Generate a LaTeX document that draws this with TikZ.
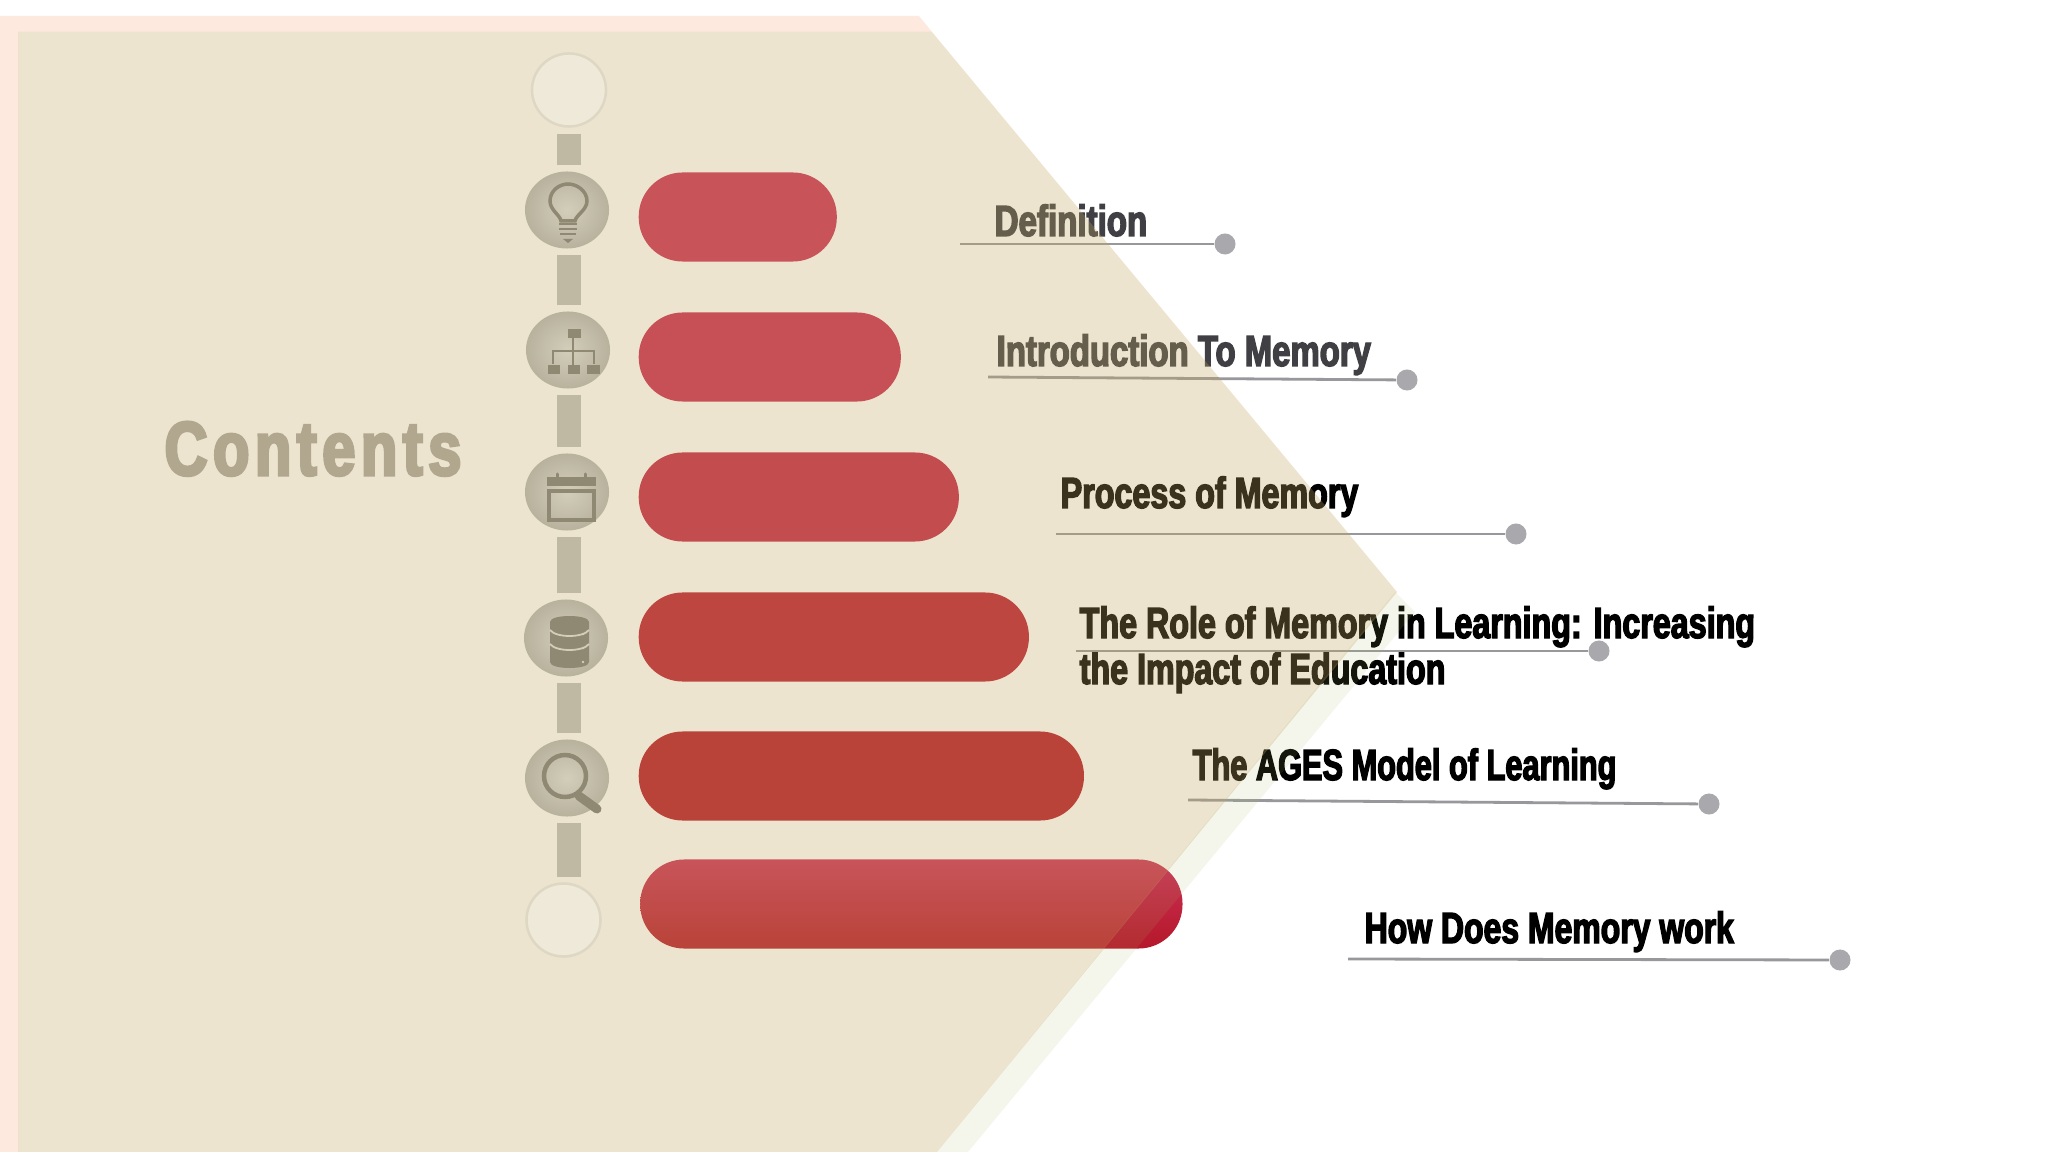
\documentclass[tikz,border=0pt]{standalone}
\usepackage{tikz}
\usepackage{xcolor}
\usepackage{graphicx}
\usepackage{fontspec}
\usetikzlibrary{shapes.geometric}
\newfontfamily\impactfont[UprightFont=* Bold,FakeStretch=0.74,FakeBold=3]{Liberation Sans}
\newfontfamily\titlefont[UprightFont=* Bold,FakeStretch=0.78,FakeBold=4,LetterSpace=7.5]{Liberation Sans}
\definecolor{pinkstrip}{HTML}{FDE9DD}
\definecolor{sandveil}{HTML}{C3A85F}
\definecolor{greenveil}{HTML}{A8BB63}
\definecolor{railgrey}{HTML}{BFB8A2}
\definecolor{iconbrown}{HTML}{8F8872}
\definecolor{titlebrown}{HTML}{B0A78E}
\definecolor{dotgrey}{HTML}{A9A8AD}
\definecolor{softgrey}{HTML}{3F3F44}
\definecolor{ringfill}{HTML}{EFE9D9}
\definecolor{ringedge}{HTML}{DDD7C4}
\definecolor{iconlight}{HTML}{D3CEBA}
\definecolor{pillone}{HTML}{CB3159}
\definecolor{pilltwo}{HTML}{C82B53}
\definecolor{pillthree}{HTML}{C42747}
\definecolor{pillfour}{HTML}{BB1D33}
\definecolor{pillfive}{HTML}{B51829}
\tikzset{
  pill/.style={rectangle,rounded corners=0.44cm,anchor=west,inner sep=0pt,minimum height=0.89cm},
  itemtext/.style={anchor=base west,inner sep=0pt,font=\impactfont\fontsize{12.4}{13.1}\selectfont},
  leader/.style={draw=dotgrey!90!black,line width=0.028cm},
  enddot/.style={circle,fill=dotgrey,inner sep=0pt,minimum size=0.21cm},
  railbar/.style={draw=railgrey,line width=0.24cm,shorten >=0.055cm,shorten <=0.06cm},
  iconball/.style={ellipse,inner sep=0pt,minimum width=0.84cm,minimum height=0.77cm,inner color=iconlight,outer color=iconbrown!40!iconlight},
  openring/.style={ellipse,inner sep=0pt,minimum width=0.74cm,minimum height=0.73cm,fill=ringfill,draw=ringedge,line width=0.025cm},
  iconline/.style={draw=iconbrown,line width=0.035cm},
  iconfill/.style={fill=iconbrown}
}
\begin{document}
\begin{tikzpicture}[x=0.01cm,y=-0.01cm]
\useasboundingbox (0,0) rectangle (2048,1152);
\fill[white] (0,0) rectangle (2048,1152);
\fill[pinkstrip] (0,16) -- (919,16) -- (932,32) -- (18,32) -- (18,1152) -- (0,1152) -- cycle;

\node[pill,fill=pillone,minimum width=1.98cm] (pilldef) at (638,217) {};
\node[pill,fill=pilltwo,minimum width=2.62cm] (pillintro) at (638,357) {};
\node[pill,fill=pillthree,minimum width=3.20cm] (pillprocess) at (638,497) {};
\node[pill,fill=pillfour,minimum width=3.90cm] (pillrole) at (638,637) {};
\node[pill,fill=pillfive,minimum width=4.45cm] (pillages) at (638,776) {};
\node[pill,top color=pillone,bottom color=pillfive,minimum width=5.42cm] (pillhow) at (639.5,904) {};

\node[itemtext,text=softgrey] (textdef) at (994,236) {\scalebox{1.025}[1]{Definition}};
\node[itemtext,text=softgrey] (textintro) at (996,366) {\scalebox{1.02}[1]{Introduction To Memory}};
\node[itemtext,text=black] (textprocess) at (1060,508) {Process of Memory};
\node[itemtext,text=black] (textroleup) at (1079,638) {The Role of Memory in Learning: Increasing};
\node[itemtext,text=black] (textroledown) at (1079,684) {the Impact of Education};
\node[itemtext,text=black] (textages) at (1192,780) {\scalebox{0.953}[1]{The AGES Model of Learning}};
\node[itemtext,text=black] (texthow) at (1364,943) {\scalebox{0.99}[1]{How Does Memory work}};

\coordinate (startdef) at (960,244);
\coordinate (startintro) at (988,377);
\coordinate (startprocess) at (1056,534);
\coordinate (startrole) at (1076,651);
\coordinate (startages) at (1188,800);
\coordinate (starthow) at (1348,959);
\node[enddot] (dotdef) at (1225,244) {};
\node[enddot] (dotintro) at (1407,380) {};
\node[enddot] (dotprocess) at (1516,534) {};
\node[enddot] (dotrole) at (1599,651) {};
\node[enddot] (dotages) at (1709,804) {};
\node[enddot] (dothow) at (1840,960) {};
\draw[leader] (startdef) -- (dotdef);
\draw[leader] (startintro) -- (dotintro);
\draw[leader] (startprocess) -- (dotprocess);
\draw[leader] (startrole) -- (dotrole);
\draw[leader] (startages) -- (dotages);
\draw[leader] (starthow) -- (dothow);

\fill[greenveil,fill opacity=0.12] (1395,592) -- (1415,612) -- (968,1152) -- (937,1152) -- cycle;
\fill[sandveil,fill opacity=0.3] (18,32) -- (932,32) -- (1397,592) -- (937,1152) -- (18,1152) -- cycle;

\node[openring] (ringtop) at (569,90) {};
\node[iconball] (ballbulb) at (567,210) {};
\node[iconball] (balltree) at (568,350) {};
\node[iconball] (ballcal) at (567,492) {};
\node[iconball] (balldata) at (566,638) {};
\node[iconball] (ballsearch) at (567,778) {};
\node[openring] (ringbottom) at (563.5,920) {};
\coordinate (rail) at (569,0);
\draw[railbar] (rail |- ringtop.south) -- (rail |- ballbulb.north);
\draw[railbar] (rail |- ballbulb.south) -- (rail |- balltree.north);
\draw[railbar] (rail |- balltree.south) -- (rail |- ballcal.north);
\draw[railbar] (rail |- ballcal.south) -- (rail |- balldata.north);
\draw[railbar] (rail |- balldata.south) -- (rail |- ballsearch.north);
\draw[railbar] (rail |- ballsearch.south) -- (rail |- ringbottom.north);

\draw[iconline] (561,221) .. controls (560,215) and (550,210) .. (550,201) .. controls (550,191) and (559,184) .. (568,184) .. controls (577,184) and (587,191) .. (587,201) .. controls (587,210) and (576,215) .. (575,221) -- cycle;
\draw[iconline,line width=0.025cm] (559,224) -- (577,224);
\draw[iconline,line width=0.025cm] (559,229) -- (577,229);
\draw[iconline,line width=0.025cm] (560,234) -- (576,234);
\fill[iconbrown] (563,239) -- (573,239) -- (568,243) -- cycle;

\fill[iconbrown] (568,329) rectangle (581,338);
\draw[iconline,line width=0.02cm] (573,338) -- (573,365);
\draw[iconline,line width=0.02cm] (553,364) -- (553,351) -- (594,351) -- (594,364);
\fill[iconbrown] (548,365) rectangle (560,374);
\fill[iconbrown] (568,365) rectangle (580,374);
\fill[iconbrown] (587,365) rectangle (600,374);

\fill[iconbrown] (547,477) rectangle (596,486);
\draw[iconline,line width=0.03cm,line cap=round] (557,474) -- (557,481);
\draw[iconline,line width=0.03cm,line cap=round] (585,474) -- (585,481);
\draw[iconline,line width=0.04cm] (549,491) rectangle (594,520);

\fill[iconbrown] (550,622) .. controls (550,614) and (589,614) .. (589,622) -- (589,662) .. controls (589,670) and (550,670) .. (550,662) -- cycle;
\draw[draw=iconlight,line width=0.018cm] (550,630) .. controls (556,638) and (583,638) .. (589,630);
\draw[draw=iconlight,line width=0.018cm] (550,644) .. controls (556,652) and (583,652) .. (589,644);
\fill[iconlight] (583,634) circle (1.3);
\fill[iconlight] (583,648) circle (1.3);
\fill[iconlight] (583,662) circle (1.3);

\draw[iconline,line width=0.045cm] (565,776) circle (21);
\draw[iconline,line width=0.09cm,line cap=round] (579,796) -- (597,809);

\node[anchor=base west,inner sep=0pt,text=titlebrown,font=\titlefont\fontsize{21.6}{26}\selectfont] (title) at (164,475) {Contents};
\end{tikzpicture}
\end{document}
